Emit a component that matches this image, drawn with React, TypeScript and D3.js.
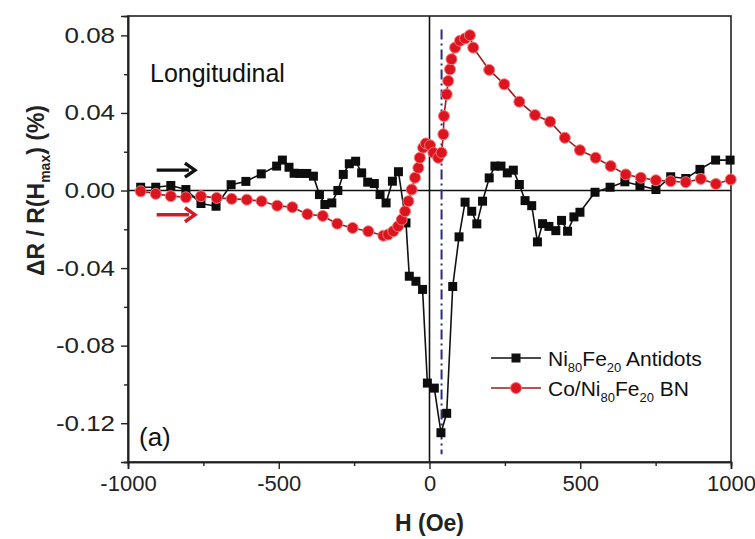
import React, { useEffect, useRef } from 'react'
import * as d3 from 'd3'

// field values (Oe) and signal (%)
const antidotH = [-958, -908, -858, -808, -758, -708, -658, -609, -558, -507, -488, -466, -449, -430, -407, -385, -365, -347, -324, -304, -286, -266, -245, -225, -205, -183, -164, -144, -123, -103, -78, -67, -45, -23, -7, 16, 38, 57, 77, 98, 118, 140, 157, 176, 198, 217, 237, 258, 278, 298, 317, 339, 358, 375, 396, 419, 438, 458, 479, 499, 549, 599, 648, 698, 751, 800, 850, 897, 949, 997]
const antidotR = [0.0017, 0.0017, 0.0026, 0.0005, -0.0067, -0.0081, 0.003, 0.0047, 0.0086, 0.0126, 0.0157, 0.012, 0.0089, 0.0088, 0.0088, 0.0074, -0.0021, -0.0072, -0.0064, 0.0, 0.0083, 0.0138, 0.0151, 0.0091, 0.0043, 0.0036, -0.0021, -0.0064, 0.0048, 0.0097, -0.0167, -0.0442, -0.0468, -0.051, -0.0993, -0.1019, -0.1249, -0.1149, -0.0495, -0.0239, -0.006, -0.0107, -0.0172, -0.0055, 0.0065, 0.0126, 0.0126, 0.0091, 0.0105, 0.0031, -0.0052, -0.0078, -0.0265, -0.0171, -0.0185, -0.0207, -0.0154, -0.021, -0.0136, -0.0112, -0.0009, 0.0017, 0.0045, 0.0026, 0.0005, 0.0071, 0.0062, 0.0109, 0.0157, 0.0157]

const bnH = [-958, -908, -858, -808, -758, -706, -656, -606, -557, -505, -455, -405, -354, -306, -255, -203, -153, -137, -120, -104, -92, -81, -70, -59, -48, -37, -32, -21, -12, 2, 13, 29, 40, 46, 48, 57, 62, 68, 73, 85, 101, 118, 134, 145, 198, 248, 298, 350, 400, 449, 499, 551, 601, 651, 701, 751, 800, 850, 900, 950, 999]
const bnR = [-0.0004, -0.0017, -0.0029, -0.0035, -0.0029, -0.0038, -0.0043, -0.0047, -0.0055, -0.0078, -0.0086, -0.0122, -0.0131, -0.0171, -0.0193, -0.021, -0.0233, -0.0227, -0.021, -0.0184, -0.015, -0.0107, -0.0055, 0.0005, 0.0066, 0.0117, 0.0169, 0.0221, 0.0243, 0.0233, 0.0195, 0.0169, 0.0195, 0.029, 0.0384, 0.0496, 0.0565, 0.0625, 0.0677, 0.0737, 0.0772, 0.0784, 0.0801, 0.0737, 0.0622, 0.0548, 0.0458, 0.0389, 0.0355, 0.0272, 0.0208, 0.0169, 0.0126, 0.0083, 0.0066, 0.0053, 0.0048, 0.0043, 0.006, 0.0034, 0.0057]

const xTicks = [-1000, -500, 0, 500, 1000]
const xMinor = [-750, -250, 250, 750]
const yTicks = [-0.12, -0.08, -0.04, 0, 0.04, 0.08]
const yMinor = [-0.14, -0.1, -0.06, -0.02, 0.02, 0.06]
const markerField = [40]

const W = 755
const H = 539
const margin = { top: 16, right: 24, bottom: 77, left: 128 }
const font = '"Liberation Sans", Arial, sans-serif'

function App() {
    const ref = useRef<SVGSVGElement>(null)

    useEffect(() => {
        const svg = d3.select(ref.current)
        svg.selectAll('*').remove()

        const x = d3.scaleLinear().domain([-1000, 1000]).range([margin.left, W - margin.right])
        const y = d3.scaleLinear().domain([-0.14, 0.09]).range([H - margin.bottom, margin.top])

        svg.append('rect').attr('width', W).attr('height', H).attr('fill', '#fff')

        // zero lines
        svg.append('line')
            .attr('x1', x(-1000)).attr('x2', x(1000)).attr('y1', y(0)).attr('y2', y(0))
            .attr('stroke', '#111').attr('stroke-width', 1.6)
        svg.append('line')
            .attr('x1', x(0)).attr('x2', x(0)).attr('y1', y(0.09)).attr('y2', y(-0.14))
            .attr('stroke', '#111').attr('stroke-width', 1.6)

        // dash-dot marker line
        svg.selectAll('.mark')
            .data(markerField)
            .enter()
            .append('line')
            .attr('x1', d => x(d)).attr('x2', d => x(d))
            .attr('y1', y(0.083)).attr('y2', y(-0.136))
            .attr('stroke', '#2a2a86').attr('stroke-width', 2)
            .attr('stroke-dasharray', '10,4,2,4')

        // axes
        const xAxis = svg.append('g')
            .attr('transform', `translate(0, ${H - margin.bottom})`)
            .call(d3.axisBottom(x).tickValues(xTicks).tickSize(7).tickPadding(6).tickFormat(d => String(d)))
        svg.append('g')
            .attr('transform', `translate(0, ${H - margin.bottom})`)
            .call(d3.axisBottom(x).tickValues(xMinor).tickSize(4).tickFormat(() => ''))
        const yAxis = svg.append('g')
            .attr('transform', `translate(${margin.left}, 0)`)
            .call(d3.axisLeft(y).tickValues(yTicks).tickSize(7).tickPadding(4).tickFormat(d => (+d).toFixed(2)))
        svg.append('g')
            .attr('transform', `translate(${margin.left}, 0)`)
            .call(d3.axisLeft(y).tickValues(yMinor).tickSize(4).tickFormat(() => ''))

        svg.selectAll('.domain').attr('stroke', '#222').attr('stroke-width', 1.6)
        svg.selectAll('.tick line').attr('stroke', '#222').attr('stroke-width', 1.4)
        xAxis.selectAll('text').attr('font-size', 22).attr('font-family', font).attr('fill', '#222')
        yAxis.selectAll('text').attr('font-size', 22).attr('font-family', font).attr('fill', '#222')
            .attr('transform', 'scale(1.18,1)')

        // frame top and right
        svg.append('rect')
            .attr('x', margin.left).attr('y', margin.top)
            .attr('width', W - margin.left - margin.right)
            .attr('height', H - margin.top - margin.bottom)
            .attr('fill', 'none').attr('stroke', '#222').attr('stroke-width', 1.6)

        // series
        const black = antidotH.map((h, i) => [h, antidotR[i]] as [number, number])
        const red = bnH.map((h, i) => [h, bnR[i]] as [number, number])
        const line = d3.line<[number, number]>().x(d => x(d[0])).y(d => y(d[1]))

        svg.append('path').attr('d', line(red)).attr('fill', 'none')
            .attr('stroke', '#9c1b1b').attr('stroke-width', 1.6)
        svg.append('path').attr('d', line(black)).attr('fill', 'none')
            .attr('stroke', '#111').attr('stroke-width', 1.6)

        svg.selectAll('.sq')
            .data(black)
            .enter()
            .append('rect')
            .attr('x', d => x(d[0]) - 4.5).attr('y', d => y(d[1]) - 4.5)
            .attr('width', 9).attr('height', 9)
            .attr('fill', '#0d0d0d')

        svg.selectAll('.dot')
            .data(red)
            .enter()
            .append('circle')
            .attr('cx', d => x(d[0])).attr('cy', d => y(d[1]))
            .attr('r', 5.5)
            .attr('fill', '#dc1420').attr('stroke', '#f27a7a').attr('stroke-width', 1)

        // sweep arrows
        const arrows = [
            { yv: 0.0105, color: '#111' },
            { yv: -0.0125, color: '#d21c24' },
        ]
        arrows.forEach(a => {
            const ay = y(a.yv)
            const x0 = x(-905)
            const x1 = x(-778)
            svg.append('line').attr('x1', x0).attr('x2', x1 - 6).attr('y1', ay).attr('y2', ay)
                .attr('stroke', a.color).attr('stroke-width', 3.4)
            svg.append('path')
                .attr('d', `M${x1 - 10},${ay - 7} L${x1},${ay} L${x1 - 10},${ay + 7}`)
                .attr('fill', 'none').attr('stroke', a.color).attr('stroke-width', 3.4)
                .attr('stroke-linejoin', 'miter')
        })

        // labels
        svg.append('text').attr('x', 150).attr('y', 82)
            .attr('font-family', font).attr('font-size', 25).attr('fill', '#111')
            .text('Longitudinal')
        svg.append('text').attr('x', 139).attr('y', 446)
            .attr('font-family', font).attr('font-size', 26).attr('fill', '#111')
            .text('(a)')

        svg.append('text').attr('x', x(0)).attr('y', 531)
            .attr('text-anchor', 'middle')
            .attr('font-family', font).attr('font-size', 23).attr('font-weight', 'bold').attr('fill', '#222')
            .text('H (Oe)')

        const yl = svg.append('text')
            .attr('transform', `translate(44, ${y(0)}) rotate(-90)`)
            .attr('text-anchor', 'middle')
            .attr('font-family', font).attr('font-size', 23).attr('font-weight', 'bold').attr('fill', '#222')
        yl.append('tspan').text('ΔR / R(H')
        yl.append('tspan').attr('dy', 6).attr('font-size', 14).text('max')
        yl.append('tspan').attr('dy', -6).text(') (%)')

        // legend
        const legend = [
            { label: ['Ni', '80', 'Fe', '20', ' Antidots'], color: '#111', line: '#111', kind: 'sq' },
            { label: ['Co/Ni', '80', 'Fe', '20', ' BN'], color: '#dc1420', line: '#9c1b1b', kind: 'dot' },
        ]
        legend.forEach((l, i) => {
            const ly = 358 + i * 30
            svg.append('line').attr('x1', 491).attr('x2', 541).attr('y1', ly).attr('y2', ly)
                .attr('stroke', l.line).attr('stroke-width', 1.6)
            if (l.kind === 'sq') {
                svg.append('rect').attr('x', 516 - 4.5).attr('y', ly - 4.5).attr('width', 9).attr('height', 9)
                    .attr('fill', l.color)
            } else {
                svg.append('circle').attr('cx', 516).attr('cy', ly).attr('r', 5.5)
                    .attr('fill', l.color).attr('stroke', '#f27a7a')
            }
            const t = svg.append('text').attr('x', 548).attr('y', ly + 8)
                .attr('font-family', font).attr('font-size', 21).attr('fill', '#111')
            t.append('tspan').text(l.label[0])
            t.append('tspan').attr('dy', 6).attr('font-size', 13).text(l.label[1])
            t.append('tspan').attr('dy', -6).text(l.label[2])
            t.append('tspan').attr('dy', 6).attr('font-size', 13).text(l.label[3])
            t.append('tspan').attr('dy', -6).text(l.label[4])
        })
    }, [])

    return (
        <svg ref={ref} width={W} height={H}
            style={{ position: 'absolute', left: 0, top: 0, display: 'block' }} />
    )
}

export default App
